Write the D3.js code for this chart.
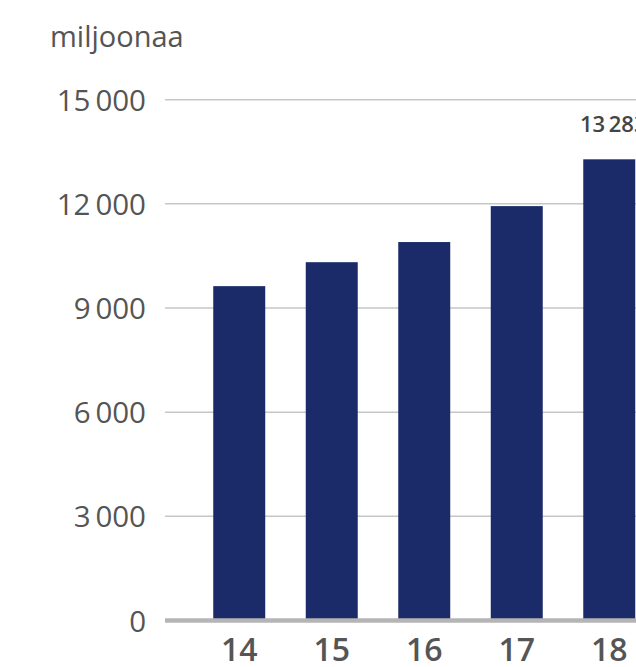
<!DOCTYPE html>
<html>
<head>
<meta charset="utf-8">
<script src="https://cdn.jsdelivr.net/npm/d3@7"></script>
<style>
  html, body { margin: 0; padding: 0; background: #fff; overflow: hidden; }
  svg { display: block; font-family: "Open Sans", "DejaVu Sans", sans-serif; }
</style>
</head>
<body>
<svg id="chart" width="636" height="667"></svg>
<script>
// Annual amounts, millions
const years = ["14", "15", "16", "17", "18"];
const values = [9630, 10320, 10900, 11935, 13283];
const tickValues = [0, 3000, 6000, 9000, 12000, 15000];
const unitLabel = "miljoonaa";
const labelledYear = "18";

const fmt = v => d3.format(",")(v).replace(/,/g, "\u2009");

const svg = d3.select("#chart");
const plotLeft = 165, plotRight = 636;
const yTop = 99.7, yBottom = 620.5;

const x = d3.scaleBand()
  .domain(years)
  .range([167, 681.5])
  .paddingInner(0.438)
  .paddingOuter(0.5);

const y = d3.scaleLinear()
  .domain([0, 15000])
  .range([yBottom, yTop]);

// Horizontal gridlines
svg.append("g")
  .selectAll("line")
  .data(tickValues.filter(d => d > 0))
  .join("line")
  .attr("x1", plotLeft)
  .attr("x2", plotRight)
  .attr("y1", d => y(d))
  .attr("y2", d => y(d))
  .attr("stroke", "#c6c6c6")
  .attr("stroke-width", 1.5);

// Y tick labels
const yAxis = d3.axisLeft(y)
  .tickValues(tickValues)
  .tickFormat(fmt)
  .tickSize(0)
  .tickPadding(0);

const gy = svg.append("g")
  .attr("transform", "translate(146,0)")
  .call(yAxis);
gy.select(".domain").remove();
gy.selectAll("text")
  .attr("font-family", "Open Sans, sans-serif")
  .attr("font-size", 29.5)
  .attr("fill", "#555")
  .attr("dy", "0.36em");

// Bars
svg.append("g")
  .selectAll("rect")
  .data(years.map((yr, i) => ({ yr, v: values[i] })))
  .join("rect")
  .attr("x", d => x(d.yr))
  .attr("width", x.bandwidth())
  .attr("y", d => y(d.v))
  .attr("height", d => y(0) - y(d.v))
  .attr("fill", "#1b2a69");

// Baseline
svg.append("line")
  .attr("x1", plotLeft)
  .attr("x2", plotRight)
  .attr("y1", y(0))
  .attr("y2", y(0))
  .attr("stroke", "#b5b5b5")
  .attr("stroke-width", 4.5);

// X axis labels
const xAxis = d3.axisBottom(x).tickSize(0).tickPadding(0);
const gx = svg.append("g")
  .attr("transform", "translate(0,661)")
  .call(xAxis);
gx.select(".domain").remove();
gx.selectAll("text")
  .attr("font-family", "Open Sans, sans-serif")
  .attr("font-size", 32)
  .attr("font-weight", 600)
  .attr("fill", "#555")
  .attr("dy", 0)
  .attr("y", 0);

// Value label for the latest year
const li = years.indexOf(labelledYear);
svg.append("text")
  .attr("x", x(labelledYear) + x.bandwidth() / 2 + 4)
  .attr("y", y(values[li]) - 27)
  .attr("text-anchor", "middle")
  .attr("font-size", 22)
  .attr("font-weight", 600)
  .attr("fill", "#444")
  .text(fmt(values[li]));

// Unit label
svg.append("text")
  .attr("x", 50)
  .attr("y", 47)
  .attr("font-size", 29)
  .attr("fill", "#555")
  .text(unitLabel);
</script>
</body>
</html>
